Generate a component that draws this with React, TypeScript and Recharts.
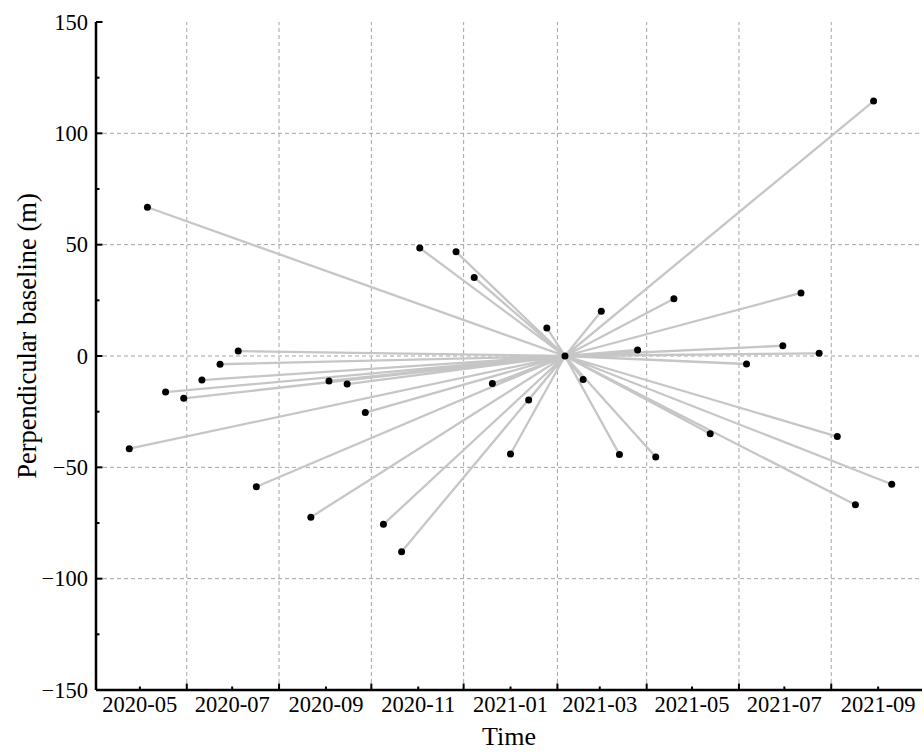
import React from 'react';
import { ComposedChart, XAxis, YAxis, Scatter, ReferenceLine } from 'recharts';

// ---- Data ----
const masterDate = '2021-02-06';
const masterBaseline = 0;

const slaveDates = [
  '2020-04-24', '2020-05-06', '2020-05-18', '2020-05-30', '2020-06-11', '2020-06-23',
  '2020-07-05', '2020-07-17', '2020-08-22', '2020-09-03', '2020-09-15', '2020-09-27',
  '2020-10-09', '2020-10-21', '2020-11-02', '2020-11-26', '2020-12-08', '2020-12-20',
  '2021-01-01', '2021-01-13', '2021-01-25', '2021-02-18', '2021-03-02', '2021-03-14',
  '2021-03-26', '2021-04-07', '2021-04-19', '2021-05-13', '2021-06-06', '2021-06-30',
  '2021-07-12', '2021-07-24', '2021-08-05', '2021-08-17', '2021-08-29', '2021-09-10',
];

const slaveBaselines = [
  -41.6, 66.8, -16.2, -19.0, -10.8, -3.7,
  2.2, -58.7, -72.4, -11.2, -12.6, -25.4,
  -75.6, -87.9, 48.5, 46.8, 35.3, -12.4,
  -44.0, -19.8, 12.6, -10.5, 20.1, -44.2,
  2.7, -45.4, 25.7, -34.9, -3.6, 4.6,
  28.3, 1.2, -36.2, -66.8, 114.5, -57.6,
];

const tickMonths = [
  '2020-05', '2020-06', '2020-07', '2020-08', '2020-09', '2020-10', '2020-11', '2020-12',
  '2021-01', '2021-02', '2021-03', '2021-04', '2021-05', '2021-06', '2021-07', '2021-08', '2021-09',
];
const labeledMonths = ['2020-05', '2020-07', '2020-09', '2020-11', '2021-01', '2021-03', '2021-05', '2021-07', '2021-09'];
const gridMonths = ['2020-06', '2020-08', '2020-10', '2020-12', '2021-02', '2021-04', '2021-06', '2021-08'];
const yTicks = [-150, -125, -100, -75, -50, -25, 0, 25, 50, 75, 100, 125, 150];
const yMajorTicks = [-150, -100, -50, 0, 50, 100, 150];
const yGrid = [-100, -50, 0, 50, 100];
const xDomainDates = ['2020-04-02', '2021-09-30'];

// ---- Helpers ----
const ts = (d: string) => Date.parse((d.length === 7 ? d + '-01' : d) + 'T00:00:00Z');
const monthLabel = (v: number) => {
  const d = new Date(v);
  return `${d.getUTCFullYear()}-${String(d.getUTCMonth() + 1).padStart(2, '0')}`;
};

const FONT = '"Liberation Serif", "Times New Roman", "DejaVu Serif", serif';

const master = { t: ts(masterDate), y: masterBaseline };
const slaves = slaveDates.map((d, i) => ({ t: ts(d), y: slaveBaselines[i] }));
const starPath = slaves.flatMap((s) => [s, master]);
const allPoints = [...slaves, master];

const XTick = (props: any) => {
  const { x, y, payload } = props;
  const label = monthLabel(payload.value);
  const labeled = labeledMonths.includes(label);
  return (
    <g>
      <line x1={x} x2={x} y1={y} y2={y - (labeled ? 3.5 : 6.5)} stroke="#000" strokeWidth={2} />
      {labeled && (
        <text x={x} y={y + 22} textAnchor="middle" fontFamily={FONT} fontSize={22.5} fill="#000">
          {label}
        </text>
      )}
    </g>
  );
};

const TopTick = (props: any) => {
  const { x, y } = props;
  return <line x1={x} x2={x} y1={y} y2={y + 4} stroke="#000" strokeWidth={2} />;
};

const YTick = (props: any) => {
  const { x, y, payload } = props;
  const v = payload.value as number;
  const major = yMajorTicks.includes(v);
  const txt = v < 0 ? '\u2212' + Math.abs(v) : String(v);
  return (
    <g>
      <line x1={x} x2={x + (major ? 6.5 : 3.5)} y1={y} y2={y} stroke="#000" strokeWidth={2} />
      {major && (
        <text x={x - 8} y={y + 7.5} textAnchor="end" fontFamily={FONT} fontSize={22.5} fill="#000">
          {txt}
        </text>
      )}
    </g>
  );
};

const Dot = (props: any) => <circle cx={props.cx} cy={props.cy} r={3.5} fill="#000" />;
const NoShape = () => <g />;

const XTitle = (props: any) => {
  const vb = props.viewBox || { x: 96, y: 690, width: 826, height: 62 };
  return (
    <text x={vb.x + vb.width / 2} y={vb.y + 55} textAnchor="middle" fontFamily={FONT} fontSize={26} fill="#000">
      Time
    </text>
  );
};

const YTitle = (props: any) => {
  const vb = props.viewBox || { x: 0, y: 22, width: 96, height: 668 };
  const cx = vb.x + 36;
  const cy = vb.y + vb.height / 2 - 20;
  return (
    <text
      x={cx}
      y={cy}
      transform={`rotate(-90, ${cx}, ${cy})`}
      textAnchor="middle"
      fontFamily={FONT}
      fontSize={26.5}
      fill="#000"
    >
      Perpendicular baseline (m)
    </text>
  );
};

const GRID = { stroke: '#a4a4a4', strokeWidth: 1, strokeDasharray: '4 3' };

export default function App() {
  const xDomain = [ts(xDomainDates[0]), ts(xDomainDates[1])];
  return (
    <div style={{ position: 'absolute', left: 0, top: 0, background: '#fff' }}>
      <ComposedChart width={924} height={752} margin={{ top: 22, right: 2, bottom: 0, left: 0 }}>
        <XAxis
          xAxisId="bottom"
          type="number"
          dataKey="t"
          domain={xDomain}
          ticks={tickMonths.map(ts)}
          interval={0}
          allowDataOverflow
          height={62}
          tickSize={0}
          tickMargin={0}
          tickLine={false}
          tick={<XTick />}
          axisLine={{ stroke: '#000', strokeWidth: 2.5 }}
          label={<XTitle />}
        />
        <XAxis
          xAxisId="top"
          orientation="top"
          type="number"
          dataKey="t"
          domain={xDomain}
          ticks={gridMonths.map(ts)}
          interval={0}
          allowDataOverflow
          height={0}
          tickSize={0}
          tickMargin={0}
          tickLine={false}
          tick={<TopTick />}
          axisLine={{ stroke: '#000', strokeWidth: 2 }}
        />
        <YAxis
          yAxisId="left"
          type="number"
          dataKey="y"
          domain={[-150, 150]}
          ticks={yTicks}
          interval={0}
          allowDataOverflow
          width={96}
          tickSize={0}
          tickMargin={0}
          tickLine={false}
          tick={<YTick />}
          axisLine={{ stroke: '#000', strokeWidth: 2.5 }}
          label={<YTitle />}
        />
        <YAxis
          yAxisId="right"
          orientation="right"
          type="number"
          dataKey="y"
          domain={[-150, 150]}
          ticks={yMajorTicks}
          allowDataOverflow
          width={0}
          tick={false}
          tickLine={false}
          axisLine={{ stroke: '#000', strokeWidth: 2 }}
        />
        {yGrid.map((v) => (
          <ReferenceLine key={'h' + v} xAxisId="bottom" yAxisId="left" y={v} {...GRID} ifOverflow="hidden" />
        ))}
        {gridMonths.map((m) => (
          <ReferenceLine key={'v' + m} xAxisId="bottom" yAxisId="left" x={ts(m)} {...GRID} ifOverflow="hidden" />
        ))}
        <Scatter
          xAxisId="bottom"
          yAxisId="left"
          data={starPath}
          line={{ stroke: '#c6c6c6', strokeWidth: 2.3 }}
          lineType="joint"
          shape={<NoShape />}
          isAnimationActive={false}
          legendType="none"
        />
        <Scatter
          xAxisId="bottom"
          yAxisId="left"
          data={allPoints}
          shape={<Dot />}
          isAnimationActive={false}
          legendType="none"
        />
      </ComposedChart>
    </div>
  );
}
